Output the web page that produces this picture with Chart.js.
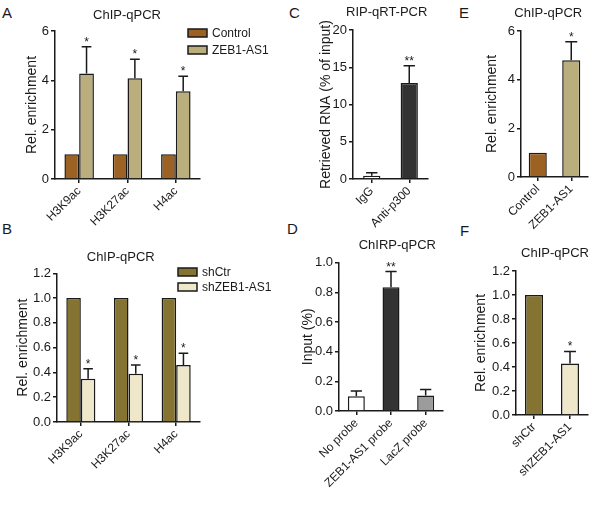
<!DOCTYPE html>
<html>
<head>
<meta charset="utf-8">
<script src="https://cdn.jsdelivr.net/npm/chart.js@4.4.1/dist/chart.umd.min.js"></script>
<style>
  html, body { margin: 0; padding: 0; background: #fff; }
  #fig { position: relative; width: 600px; height: 506px; overflow: hidden; font-family: 'Liberation Sans', Arial, sans-serif; }
  #fig canvas { position: absolute; }
  .lbl { position: absolute; font-size: 15px; line-height: 15px; color: #1a1a1a; }
</style>
</head>
<body>
<div id="fig">
  <div class="lbl" style="left:2px;top:5px">A</div>
  <div class="lbl" style="left:289px;top:5px">C</div>
  <div class="lbl" style="left:459px;top:5px">E</div>
  <div class="lbl" style="left:2px;top:221px">B</div>
  <div class="lbl" style="left:287px;top:221px">D</div>
  <div class="lbl" style="left:460px;top:223px">F</div>
  <canvas id="cA"></canvas>
  <canvas id="cC"></canvas>
  <canvas id="cE"></canvas>
  <canvas id="cB"></canvas>
  <canvas id="cD"></canvas>
  <canvas id="cF"></canvas>
</div>
<script>
// ---- data ----
const histoneMarks = ['H3K9ac', 'H3K27ac', 'H4ac'];

// A: ChIP-qPCR, Control vs ZEB1-AS1
const controlA = [1, 1, 1];
const zebA = [4.28, 4.08, 3.56];
const zebErrA = [1.08, 0.77, 0.61];
const zebStarsA = ['*', '*', '*'];
const ticksA = [0, 2, 4, 6];

// B: ChIP-qPCR, shCtr vs shZEB1-AS1
const shCtrB = [1, 1, 1];
const shZebB = [0.35, 0.39, 0.46];
const shZebErrB = [0.08, 0.07, 0.095];
const shZebStarsB = ['*', '*', '*'];
const ticksB = [0, 0.2, 0.4, 0.6, 0.8, 1.0, 1.2];

// C: RIP-qRT-PCR
const ripGroups = ['IgG', 'Anti-p300'];
const ripValues = [0.45, 12.9];
const ripErr = [0.4, 2.3];
const ripStars = ['', '**'];
const ticksC = [0, 5, 10, 15, 20];

// D: ChIRP-qPCR
const probes = ['No probe', 'ZEB1-AS1 probe', 'LacZ probe'];
const probeValues = [0.10, 0.835, 0.105];
const probeErr = [0.035, 0.105, 0.04];
const probeStars = ['', '**', ''];
const ticksD = [0, 0.2, 0.4, 0.6, 0.8, 1.0];

// E: ChIP-qPCR
const groupsE = ['Control', 'ZEB1-AS1'];
const valuesE = [1, 4.8];
const errE = [0, 0.76];
const starsE = ['', '*'];
const ticksE = [0, 2, 4, 6];

// F: ChIP-qPCR
const groupsF = ['shCtr', 'shZEB1-AS1'];
const valuesF = [1, 0.43];
const errF = [0, 0.1];
const starsF = ['', '*'];
const ticksF = [0, 0.2, 0.4, 0.6, 0.8, 1.0, 1.2];

// ---- styling ----
const INK = '#1a1a1a';
const FONT = "'Liberation Sans', Arial, sans-serif";
const C_BROWN = '#9b6224', C_KHAKI = '#b9ae7c', C_OLIVE = '#857431', C_CREAM = '#efe7ca';
const C_DARK = '#333333', C_GREY = '#9c9c9c', C_WHITE = '#ffffff';

Chart.defaults.font.family = FONT;
Chart.defaults.color = INK;
Chart.defaults.animation = false;

// upper error bars + significance stars, from dataset.errors / dataset.stars
const errorBars = {
  id: 'errorBars',
  afterDatasetsDraw(chart) {
    const ctx = chart.ctx, yScale = chart.scales.y;
    chart.data.datasets.forEach((ds, i) => {
      if (!ds.errors) return;
      chart.getDatasetMeta(i).data.forEach((bar, j) => {
        const err = ds.errors[j] || 0;
        const yTop = yScale.getPixelForValue(ds.data[j] + err);
        const cap = bar.width * 0.33;
        ctx.save();
        ctx.strokeStyle = INK;
        ctx.lineWidth = 1.5;
        if (err) {
          ctx.beginPath();
          ctx.moveTo(bar.x, bar.y);
          ctx.lineTo(bar.x, yTop);
          ctx.moveTo(bar.x - cap, yTop);
          ctx.lineTo(bar.x + cap, yTop);
          ctx.stroke();
        }
        if (ds.stars && ds.stars[j]) {
          ctx.fillStyle = INK;
          ctx.font = '12px ' + FONT;
          ctx.textAlign = 'center';
          ctx.textBaseline = 'alphabetic';
          ctx.fillText(ds.stars[j], bar.x, yTop - 1);
        }
        ctx.restore();
      });
    });
  }
};

// panel title and box legend
const panelText = {
  id: 'panelText',
  afterDraw(chart, args, opts) {
    const ctx = chart.ctx;
    ctx.save();
    ctx.fillStyle = INK;
    ctx.font = '13px ' + FONT;
    ctx.textAlign = 'center';
    ctx.textBaseline = 'middle';
    ctx.fillText(opts.title, opts.titleX, opts.titleY);
    if (opts.legendX !== undefined) {
      chart.data.datasets.forEach((ds, i) => {
        const y = opts.legendY + i * opts.legendGap;
        ctx.fillStyle = ds.backgroundColor;
        ctx.fillRect(opts.legendX, y, 19, 8);
        ctx.strokeStyle = INK;
        ctx.lineWidth = 1.5;
        ctx.strokeRect(opts.legendX, y, 19, 8);
        ctx.fillStyle = INK;
        ctx.font = '12px ' + FONT;
        ctx.textAlign = 'left';
        ctx.fillText(ds.label, opts.legendX + 24, y + 4.5);
      });
    }
    ctx.restore();
  }
};

const oneDecimal = v => Number(v).toFixed(1);
const integer = v => String(v);

function drawPanel(id, box, labels, datasets, yTicks, yTitle, fmt, text) {
  const cv = document.getElementById(id);
  cv.width = box.w;
  cv.height = box.h;
  cv.style.left = box.x + 'px';
  cv.style.top = box.y + 'px';
  return new Chart(cv, {
    type: 'bar',
    data: { labels, datasets },
    plugins: [errorBars, panelText],
    options: {
      responsive: false,
      devicePixelRatio: 1,
      layout: { padding: { left: 0, top: box.padTop, right: box.padRight, bottom: 0 } },
      plugins: { legend: { display: false }, tooltip: { enabled: false }, panelText: text },
      scales: {
        x: {
          grid: { display: true, drawOnChartArea: false, offset: false, tickLength: 4, color: INK, lineWidth: 1.5 },
          border: { display: true, color: INK, width: 1.5 },
          ticks: { font: { size: 12 }, minRotation: 45, maxRotation: 45, autoSkip: false, padding: 1, color: INK },
          afterFit: s => { s.height = box.xH; }
        },
        y: {
          min: yTicks[0],
          max: yTicks[yTicks.length - 1],
          grid: { drawOnChartArea: false, tickLength: 4, color: INK, lineWidth: 1.5 },
          border: { display: true, color: INK, width: 1.5 },
          ticks: { stepSize: yTicks[1] - yTicks[0], font: { size: 13 }, padding: 2, color: INK, callback: v => fmt(v) },
          title: { display: true, text: yTitle, font: { size: 14 }, color: INK, padding: { top: box.titlePad, bottom: 0 } },
          afterFit: s => { s.width = box.yW; }
        }
      }
    }
  });
}

function barSet(label, data, color, width, errors, stars) {
  return {
    label, data, errors, stars,
    backgroundColor: color,
    borderColor: INK,
    borderWidth: 1.5,
    borderSkipped: 'bottom',
    categoryPercentage: width,
    barPercentage: 1
  };
}

// A
drawPanel('cA', { x: 0, y: 0, w: 290, h: 236, padTop: 31, padRight: 90, yW: 55, xH: 57, titlePad: 23.6 },
  histoneMarks,
  [barSet('Control', controlA, C_BROWN, 0.61),
   barSet('ZEB1-AS1', zebA, C_KHAKI, 0.61, zebErrA, zebStarsA)],
  ticksA, 'Rel. enrichment', integer,
  { title: 'ChIP-qPCR', titleX: 127, titleY: 15, legendX: 188, legendY: 29, legendGap: 17 });

// C
drawPanel('cC', { x: 290, y: 0, w: 160, h: 236, padTop: 30, padRight: 22, yW: 63, xH: 57, titlePad: 27.3 },
  ripGroups,
  [barSet('RIP', ripValues, [C_WHITE, C_DARK], 0.46, ripErr, ripStars)],
  ticksC, 'Retrieved RNA (% of input)', integer,
  { title: 'RIP-qRT-PCR', titleX: 96.7, titleY: 12.3 });

// E
drawPanel('cE', { x: 450, y: 0, w: 150, h: 236, padTop: 31, padRight: 12, yW: 71, xH: 59, titlePad: 33.3 },
  groupsE,
  [barSet('ChIP', valuesE, [C_BROWN, C_KHAKI], 0.54, errE, starsE)],
  ticksE, 'Rel. enrichment', integer,
  { title: 'ChIP-qPCR', titleX: 98.3, titleY: 13.3 });

// B
drawPanel('cB', { x: 0, y: 236, w: 290, h: 270, padTop: 37.3, padRight: 90, yW: 57, xH: 84, titlePad: 14.3 },
  histoneMarks,
  [barSet('shCtr', shCtrB, C_OLIVE, 0.61),
   barSet('shZEB1-AS1', shZebB, C_CREAM, 0.61, shZebErrB, shZebStarsB)],
  ticksB, 'Rel. enrichment', oneDecimal,
  { title: 'ChIP-qPCR', titleX: 120.7, titleY: 21.3, legendX: 178, legendY: 32, legendGap: 15 });

// D
drawPanel('cD', { x: 290, y: 236, w: 160, h: 270, padTop: 26.7, padRight: 7, yW: 49, xH: 95, titlePad: 9.9 },
  probes,
  [barSet('ChIRP', probeValues, [C_WHITE, C_DARK, C_GREY], 0.49, probeErr, probeStars)],
  ticksD, 'Input (%)', oneDecimal,
  { title: 'ChIRP-qPCR', titleX: 107.3, titleY: 9.7 });

// F
drawPanel('cF', { x: 450, y: 236, w: 150, h: 270, padTop: 35, padRight: 12, yW: 66, xH: 91, titlePad: 22.3 },
  groupsF,
  [barSet('ChIP', valuesF, [C_OLIVE, C_CREAM], 0.5, errF, starsF)],
  ticksF, 'Rel. enrichment', oneDecimal,
  { title: 'ChIP-qPCR', titleX: 105, titleY: 17.3 });
</script>
</body>
</html>
